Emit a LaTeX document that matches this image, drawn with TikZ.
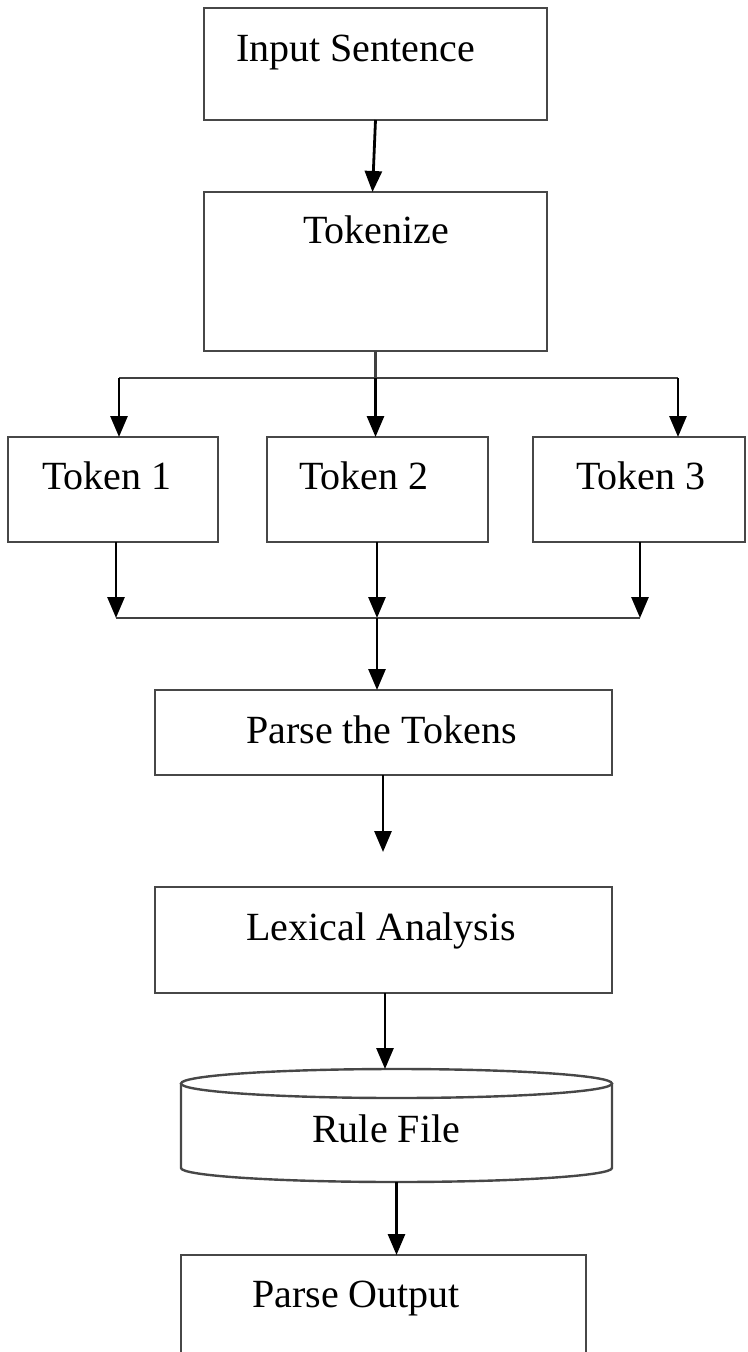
\documentclass[tikz,border=0pt]{standalone}
\usepackage{fontspec}
\setmainfont{Liberation Serif}
\usetikzlibrary{arrows.meta}
\tikzset{
 boxst/.style={draw=black!72, line width=2.4pt, inner sep=0pt, outer sep=0pt},
 lbl/.style={anchor=base west, inner sep=0pt, font=\fontsize{40}{48}\selectfont},
 arr/.style={draw=black, line width=2.8pt, -{Triangle[length=21pt,width=17pt]}},
 ln/.style={draw=black!75, line width=2.8pt},
}
\begin{document}
\begin{tikzpicture}[x=1pt,y=1pt]
\useasboundingbox (0,0) rectangle (747,-1352);
\clip (0,0) rectangle (747,-1352);
% boxes
\node[boxst, minimum width=343pt, minimum height=112pt] (in) at (375.5,-64) {};
\node[lbl] (inT) at (236,-61) {Input Sentence};
\node[boxst, minimum width=343pt, minimum height=159pt] (tok) at (375.5,-271.5) {};
\node[lbl] (tokT) at (303,-243) {Tokenize};
\node[boxst, minimum width=210pt, minimum height=105pt] (t1) at (113,-489.5) {};
\node[lbl] (t1T) at (42,-489) {Token 1};
\node[boxst, minimum width=221pt, minimum height=105pt] (t2) at (377.5,-489.5) {};
\node[lbl] (t2T) at (299,-489) {Token 2};
\node[boxst, minimum width=212pt, minimum height=105pt] (t3) at (639,-489.5) {};
\node[lbl] (t3T) at (576,-489) {Token 3};
\node[boxst, minimum width=457pt, minimum height=85pt] (pt) at (383.5,-732.5) {};
\node[lbl] (ptT) at (246,-743) {Parse the Tokens};
\node[boxst, minimum width=457pt, minimum height=106pt] (lex) at (383.5,-940) {};
\node[lbl] (lexT) at (246,-940) {Lexical Analysis};
% cylinder
\node[inner sep=0pt, outer sep=0pt, minimum width=431pt, minimum height=113pt] (rf) at (396.5,-1125.5) {};
\draw[boxst] (396.5,-1083.5) ellipse [x radius=215.5, y radius=14.5];
\draw[boxst] (181,-1083.5) -- (181,-1168) arc[start angle=180, end angle=360, x radius=215.5, y radius=14] -- (612,-1083.5);
\node[lbl] (rfT) at (312,-1142) {Rule File};
\node[boxst, minimum width=405pt, minimum height=110pt] (out) at (383.5,-1310) {};
\node[lbl] (outT) at (252,-1307) {Parse Output};
% connectors
\draw[arr] (in.south) -- ([xshift=-3pt]tok.north);
\coordinate (split) at (375.5,-378);
\coordinate (sl) at (119,-378);
\coordinate (sr) at (678,-378);
\draw[ln] (tok.south) -- (split);
\draw[ln] (sl) -- (sr);
\draw[arr] (sl) -- (sl |- t1.north);
\draw[arr] (split) -- (split |- t2.north);
\draw[arr] (sr) -- (sr |- t3.north);
\coordinate (m1) at (116,-618);
\coordinate (m2) at (377,-618);
\coordinate (m3) at (640,-618);
\draw[arr] (m1 |- t1.south) -- (m1);
\draw[arr] (m2 |- t2.south) -- (m2);
\draw[arr] (m3 |- t3.south) -- (m3);
\draw[ln] (m1) -- (m3);
\draw[arr] (m2) -- (m2 |- pt.north);
\coordinate (fe) at (383,-852);
\draw[arr] (pt.south -| fe) -- (fe);
\coordinate (c1) at (385,-1069);
\draw[arr] (lex.south -| c1) -- (c1);
\draw[arr] (rf.south) -- (rf.south |- out.north);
\end{tikzpicture}
\end{document}
